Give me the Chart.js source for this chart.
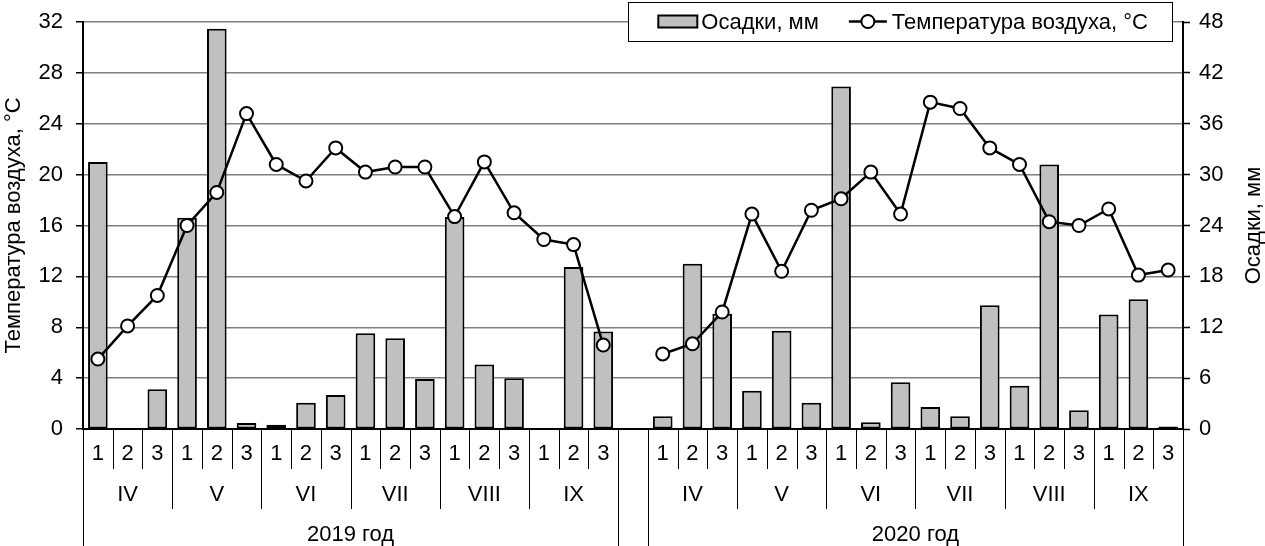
<!DOCTYPE html>
<html>
<head>
<meta charset="utf-8">
<script src="https://cdn.jsdelivr.net/npm/chart.js@4/dist/chart.umd.min.js"></script>
<style>
  html, body { margin: 0; padding: 0; background: #fff; }
  #wrap { width: 1265px; height: 546px; position: relative; }
</style>
</head>
<body>
<div id="wrap"><canvas id="chart"></canvas></div>
<script>
  // data
  const years = ['2019 год', '2020 год'];
  const months = ['IV', 'V', 'VI', 'VII', 'VIII', 'IX'];
  const decades = ['1', '2', '3'];

  const precip2019 = [31.5, 0, 4.7, 24.9, 47.2, 0.7, 0.5, 3.1, 4.0, 11.3, 10.7, 5.9, 25.0, 7.6, 6.0, 0, 19.1, 11.5];
  const precip2020 = [1.5, 19.5, 13.6, 4.5, 11.6, 3.1, 40.4, 0.8, 5.5, 2.6, 1.5, 14.6, 5.1, 31.2, 2.2, 13.5, 15.3, 0.3];
  const temp2019 = [5.5, 8.1, 10.5, 16.0, 18.6, 24.8, 20.8, 19.5, 22.1, 20.2, 20.6, 20.6, 16.7, 21.0, 17.0, 14.9, 14.5, 6.6];
  const temp2020 = [5.9, 6.7, 9.2, 16.9, 12.4, 17.2, 18.1, 20.2, 16.9, 25.7, 25.2, 22.1, 20.8, 16.3, 16.0, 17.3, 12.1, 12.5];

  const tempTicks = [0, 4, 8, 12, 16, 20, 24, 28, 32];
  const precipTicks = [0, 6, 12, 18, 24, 30, 36, 42, 48];

  const tempTitle = 'Температура воздуха, °C';
  const precipTitle = 'Осадки, мм';

  // one empty slot between the two years
  const perYear = months.length * decades.length;
  const labels = [];
  years.forEach((y, k) => {
    if (k > 0) labels.push('');
    months.forEach(() => decades.forEach(d => labels.push(d)));
  });
  const precip = [...precip2019, null, ...precip2020];
  const temp = [...temp2019, null, ...temp2020];

  const FONT = '"Liberation Sans", Arial, sans-serif';
  const FS = 22;
  Chart.defaults.font.family = FONT;
  Chart.defaults.font.size = FS;
  Chart.defaults.color = '#000';

  // year / month / decade rows under the x axis
  const groupAxis = {
    id: 'groupAxis',
    afterDraw(chart) {
      const { ctx, chartArea } = chart;
      const x = chart.scales.x;
      const w = (x.right - x.left) / labels.length;
      const edge = i => x.getPixelForValue(i) - w / 2;
      const y0 = chartArea.bottom;
      const H = chart.height;
      ctx.save();
      ctx.strokeStyle = '#000';
      ctx.lineWidth = 1;
      ctx.fillStyle = '#000';
      ctx.font = FS + 'px ' + FONT;
      ctx.textAlign = 'center';
      ctx.textBaseline = 'middle';
      const vline = (px, len) => {
        ctx.beginPath();
        ctx.moveTo(Math.round(px) + 0.5, y0);
        ctx.lineTo(Math.round(px) + 0.5, y0 + len);
        ctx.stroke();
      };
      years.forEach((yr, k) => {
        const start = k * (perYear + 1);
        months.forEach((mo, m) => {
          decades.forEach((d, j) => {
            const idx = start + m * 3 + j;
            ctx.fillText(d, x.getPixelForValue(idx), y0 + 25);
            if (j > 0) vline(edge(idx), 40);
          });
          const a = edge(start + m * 3), b = edge(start + m * 3 + 3);
          ctx.fillText(mo, (a + b) / 2, y0 + 66);
          if (m > 0) vline(a, 80);
        });
        const a = edge(start), b = edge(start + perYear);
        ctx.fillText(yr, (a + b) / 2, y0 + 106);
        vline(a, H - y0);
        vline(b, H - y0);
      });

      // axis titles, both read bottom to top
      const midY = (chartArea.top + chartArea.bottom) / 2;
      [[14, tempTitle], [1254, precipTitle]].forEach(([tx, t]) => {
        ctx.save();
        ctx.translate(tx, midY);
        ctx.rotate(-Math.PI / 2);
        ctx.fillText(t, 0, 0);
        ctx.restore();
      });
      ctx.restore();
    }
  };

  // boxed legend over the top right corner of the plot
  const boxLegend = {
    id: 'boxLegend',
    afterDraw(chart) {
      const { ctx, chartArea } = chart;
      ctx.save();
      ctx.font = FS + 'px ' + FONT;
      const w1 = ctx.measureText(precipTitle).width;
      const w2 = ctx.measureText(tempTitle).width;
      const total = 30 + 39 + 4 + w1 + 30 + 38 + 5 + w2 + 24;
      const right = chartArea.right - 11;
      const left = right - total;
      const top = 2, h = 39, cy = top + h / 2;
      ctx.fillStyle = '#fff';
      ctx.fillRect(left, top, total, h);
      ctx.strokeStyle = '#000';
      ctx.lineWidth = 1;
      ctx.strokeRect(Math.round(left) + 0.5, top + 0.5, Math.round(total), h);

      let px = left + 30;
      ctx.fillStyle = '#c0c0c0';
      ctx.fillRect(px, cy - 6, 39, 12);
      ctx.lineWidth = 2;
      ctx.strokeRect(px, cy - 6, 39, 12);
      px += 43;
      ctx.fillStyle = '#000';
      ctx.textBaseline = 'middle';
      ctx.fillText(precipTitle, px, cy + 1);
      px += w1 + 30;
      ctx.lineWidth = 2.5;
      ctx.beginPath();
      ctx.moveTo(px, cy);
      ctx.lineTo(px + 38, cy);
      ctx.stroke();
      ctx.beginPath();
      ctx.arc(px + 19, cy, 6.5, 0, Math.PI * 2);
      ctx.fillStyle = '#fff';
      ctx.fill();
      ctx.lineWidth = 2;
      ctx.stroke();
      px += 43;
      ctx.fillStyle = '#000';
      ctx.fillText(tempTitle, px, cy + 1);
      ctx.restore();
    }
  };

  new Chart(document.getElementById('chart'), {
    data: {
      labels: labels,
      datasets: [
        {
          type: 'line',
          label: tempTitle,
          data: temp,
          yAxisID: 'yT',
          borderColor: '#000',
          borderWidth: 2.5,
          pointRadius: 6.5,
          pointBackgroundColor: '#fff',
          pointBorderColor: '#000',
          pointBorderWidth: 2,
          tension: 0,
          spanGaps: false,
          order: 0
        },
        {
          type: 'bar',
          label: precipTitle,
          data: precip,
          yAxisID: 'yP',
          backgroundColor: '#c0c0c0',
          borderColor: '#000',
          borderWidth: 2,
          borderSkipped: false,
          barPercentage: 0.66,
          categoryPercentage: 1,
          order: 1
        }
      ]
    },
    options: {
      responsive: true,
      maintainAspectRatio: false,
      animation: false,
      layout: { padding: { top: 22, left: 0, right: 0, bottom: 0 } },
      plugins: { legend: { display: false }, tooltip: { enabled: false } },
      scales: {
        x: {
          offset: true,
          grid: { display: false },
          ticks: { display: false },
          border: { color: '#000', width: 2 },
          afterFit: s => { s.height = 117; }
        },
        yT: {
          position: 'left',
          min: 0, max: 32,
          afterBuildTicks: s => { s.ticks = tempTicks.map(v => ({ value: v })); },
          ticks: { padding: 13, font: { lineHeight: 0.8 } },
          grid: { color: '#808080', lineWidth: 1.5, tickColor: '#000', tickLength: 7, tickWidth: 1.5 },
          border: { color: '#000', width: 2 },
          afterFit: s => { s.width = 83; }
        },
        yP: {
          position: 'right',
          min: 0, max: 48,
          afterBuildTicks: s => { s.ticks = precipTicks.map(v => ({ value: v })); },
          ticks: { padding: 9, font: { lineHeight: 0.8 } },
          grid: { drawOnChartArea: false, tickColor: '#000', tickLength: 7, tickWidth: 1.5 },
          border: { color: '#000', width: 2 },
          afterFit: s => { s.width = 82; }
        }
      }
    },
    plugins: [groupAxis, boxLegend]
  });
</script>
</body>
</html>
